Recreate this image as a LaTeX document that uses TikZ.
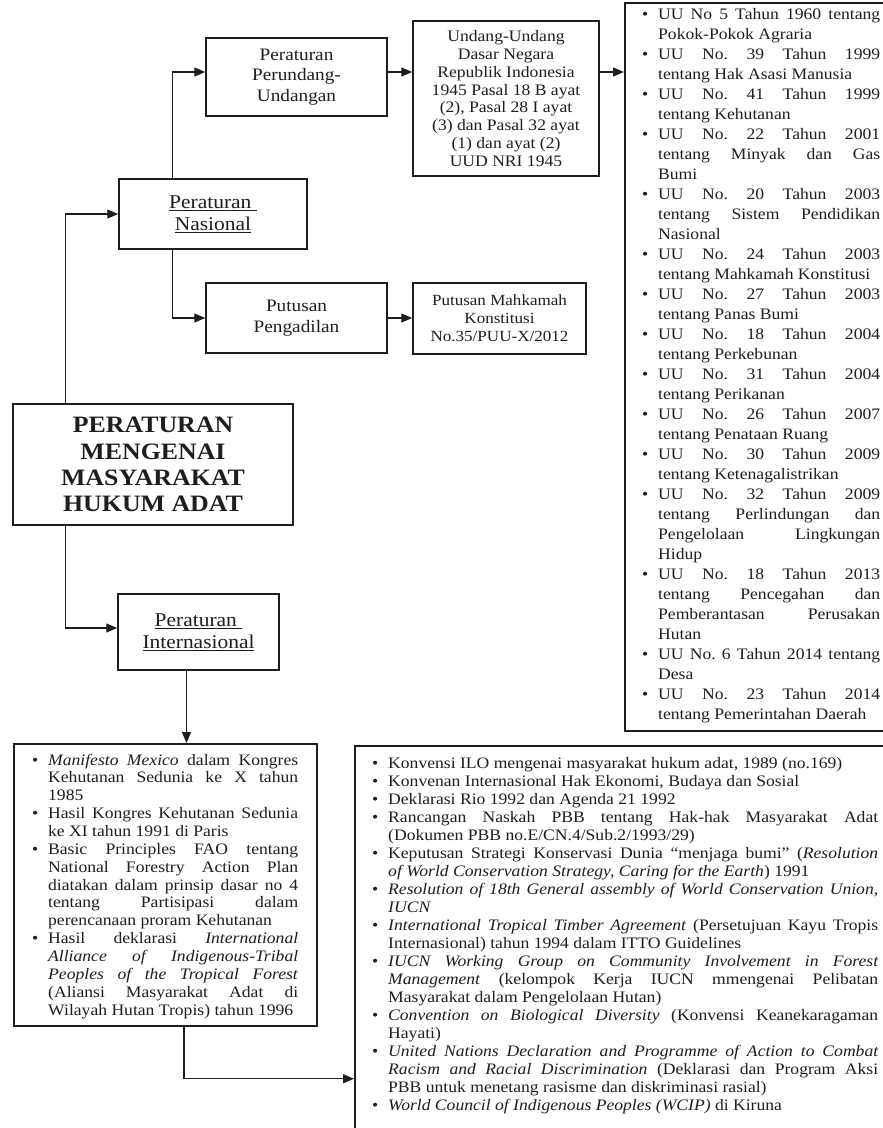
\documentclass[tikz,border=0pt]{standalone}
\usepackage{fontspec}
\setmainfont[FakeStretch=1.1]{Liberation Serif}
\usetikzlibrary{arrows.meta}
\definecolor{ink}{HTML}{1E1E1E}
\newcommand{\bul}{\leavevmode\llap{\textbullet\hspace{10pt}}}
\newcommand{\listsetup}{\frenchspacing\leftskip=18pt\rightskip=0pt\spaceskip=0pt\xspaceskip=0pt\parindent=0pt\parskip=0pt\parfillskip=0pt plus 1fil\tolerance=10000\hbadness=10000\hyphenpenalty=10000\exhyphenpenalty=10000}
\tikzset{
  box/.style={draw=ink, line width=1.5pt, rectangle, inner sep=0pt, text=ink, align=center},
  arr/.style={draw=ink, line width=1.3pt, -{Triangle[length=11pt,width=9pt]}},
  listtext/.style={inner sep=0pt, anchor=base west, text=ink, align=justify}
}
\begin{document}
\begin{tikzpicture}[x=1pt,y=-1pt]
\useasboundingbox (0,0) rectangle (883,1128);
\fill[white] (0,0) rectangle (883,1128);
\clip (0,0) rectangle (883,1128);

\node[box, minimum width=181pt, minimum height=78pt, font=\fontsize{17.5}{20.5}\selectfont] (perundang) at (296.5,77) {Peraturan\\Perundang-\\Undangan};
\node[box, minimum width=188pt, minimum height=70pt, font=\fontsize{19.5}{21.7}\selectfont] (nasional) at (213,214) {\underline{Peraturan\ }\\\underline{Nasional}};
\node[box, minimum width=181pt, minimum height=70pt, font=\fontsize{17.5}{20.5}\selectfont] (pengadilan) at (296.5,318) {Putusan\\Pengadilan};
\node[box, minimum width=186pt, minimum height=155pt, font=\fontsize{16}{17.86}\selectfont] (uud) at (506,98.5) {Undang-Undang\\Dasar Negara\\Republik Indonesia\\1945 Pasal 18 B ayat\\(2), Pasal 28 I ayat\\(3) dan Pasal 32 ayat\\(1) dan ayat (2)\\UUD NRI 1945};
\node[box, minimum width=173pt, minimum height=71pt, font=\fontsize{15.5}{18}\selectfont] (mk) at (499.5,318.5) {Putusan Mahkamah\\Konstitusi\\No.35/PUU-X/2012};
\node[box, minimum width=280pt, minimum height=121pt, font=\bfseries\fontsize{23.5}{26.3}\selectfont] (main) at (153,464.5) {PERATURAN\\MENGENAI\\MASYARAKAT\\HUKUM ADAT};
\node[box, minimum width=161pt, minimum height=76pt, font=\fontsize{19.5}{21.7}\selectfont] (intl) at (198.5,632) {\underline{Peraturan\ }\\\underline{Internasional}};
\node[box, anchor=north west, minimum width=280pt, minimum height=728pt] (ulist) at (624,2) {};
\node[box, anchor=north west, minimum width=303pt, minimum height=282pt] (blist) at (13,743) {};
\node[box, anchor=north west, minimum width=560pt, minimum height=420pt] (ilist) at (354,745) {};

\node[listtext, text width=240pt, font=\fontsize{16}{20}\selectfont] (utext) at (640,19) {\listsetup
\bul UU No 5 Tahun 1960 tentang\break Pokok-Pokok Agraria\par
\bul UU No. 39 Tahun 1999\break tentang Hak Asasi Manusia\par
\bul UU No. 41 Tahun 1999\break tentang Kehutanan\par
\bul UU No. 22 Tahun 2001\break tentang Minyak dan Gas\break Bumi\par
\bul UU No. 20 Tahun 2003\break tentang Sistem Pendidikan\break Nasional\par
\bul UU No. 24 Tahun 2003\break tentang Mahkamah Konstitusi\par
\bul UU No. 27 Tahun 2003\break tentang Panas Bumi\par
\bul UU No. 18 Tahun 2004\break tentang Perkebunan\par
\bul UU No. 31 Tahun 2004\break tentang Perikanan\par
\bul UU No. 26 Tahun 2007\break tentang Penataan Ruang\par
\bul UU No. 30 Tahun 2009\break tentang Ketenagalistrikan\par
\bul UU No. 32 Tahun 2009\break tentang Perlindungan dan\break Pengelolaan Lingkungan\break Hidup\par
\bul UU No. 18 Tahun 2013\break tentang Pencegahan dan\break Pemberantasan Perusakan\break Hutan\par
\bul UU No. 6 Tahun 2014 tentang\break Desa\par
\bul UU No. 23 Tahun 2014\break tentang Pemerintahan Daerah\par};

\node[listtext, text width=268pt, font=\fontsize{16}{17.86}\selectfont] (btext) at (30,765) {\listsetup
\bul \textit{Manifesto Mexico} dalam Kongres\break Kehutanan Sedunia ke X tahun\break 1985\par
\bul Hasil Kongres Kehutanan Sedunia\break ke XI tahun 1991 di Paris\par
\bul Basic Principles FAO tentang\break National Forestry Action Plan\break diatakan dalam prinsip dasar no 4\break tentang Partisipasi dalam\break perencanaan proram Kehutanan\par
\bul Hasil deklarasi \textit{International\break Alliance of Indigenous-Tribal\break Peoples of the Tropical Forest}\break (Aliansi Masyarakat Adat di\break Wilayah Hutan Tropis) tahun 1996\par};

\node[listtext, text width=508pt, font=\fontsize{16}{18}\selectfont] (itext) at (370,768) {\listsetup
\bul Konvensi ILO mengenai masyarakat hukum adat, 1989 (no.169)\par
\bul Konvenan Internasional Hak Ekonomi, Budaya dan Sosial\par
\bul Deklarasi Rio 1992 dan Agenda 21 1992\par
\bul Rancangan Naskah PBB tentang Hak-hak Masyarakat Adat\break (Dokumen PBB no.E/CN.4/Sub.2/1993/29)\par
\bul Keputusan Strategi Konservasi Dunia “menjaga bumi” (\textit{Resolution\break of World Conservation Strategy, Caring for the Earth}) 1991\par
\bul \textit{Resolution of 18th General assembly of World Conservation Union,\break IUCN}\par
\bul \textit{International Tropical Timber Agreement} (Persetujuan Kayu Tropis\break Internasional) tahun 1994 dalam ITTO Guidelines\par
\bul \textit{IUCN Working Group on Community Involvement in Forest\break Management} (kelompok Kerja IUCN mmengenai Pelibatan\break Masyarakat dalam Pengelolaan Hutan)\par
\bul \textit{Convention on Biological Diversity} (Konvensi Keanekaragaman\break Hayati)\par
\bul \textit{United Nations Declaration and Programme of Action to Combat\break Racism and Racial Discrimination} (Deklarasi dan Program Aksi\break PBB untuk menetang rasisme dan diskriminasi rasial)\par
\bul \textit{World Council of Indigenous Peoples (WCIP)} di Kiruna\par};

\draw[arr] ([xshift=53pt]main.north west) |- (nasional.west);
\draw[arr] ([xshift=54pt]nasional.north west) |- ([yshift=5pt]perundang.west);
\draw[arr] ([xshift=54pt]nasional.south west) |- (pengadilan.west);
\draw[arr] ([yshift=5pt]perundang.east) -- ([yshift=5pt]perundang.east -| uud.west);
\draw[arr] ([yshift=5pt]perundang.east -| uud.east) -- ([yshift=5pt]perundang.east -| ulist.west);
\draw[arr] (pengadilan.east) -- (pengadilan.east -| mk.west);
\draw[arr] ([xshift=53pt]main.south west) |- ([yshift=4pt]intl.west);
\draw[arr] ([xshift=-12pt]intl.south) -- ([xshift=-12pt]intl.south |- blist.north);
\draw[arr] ([xshift=171pt]blist.south west) |- ([yshift=-123pt]ilist.west);
\end{tikzpicture}
\end{document}
